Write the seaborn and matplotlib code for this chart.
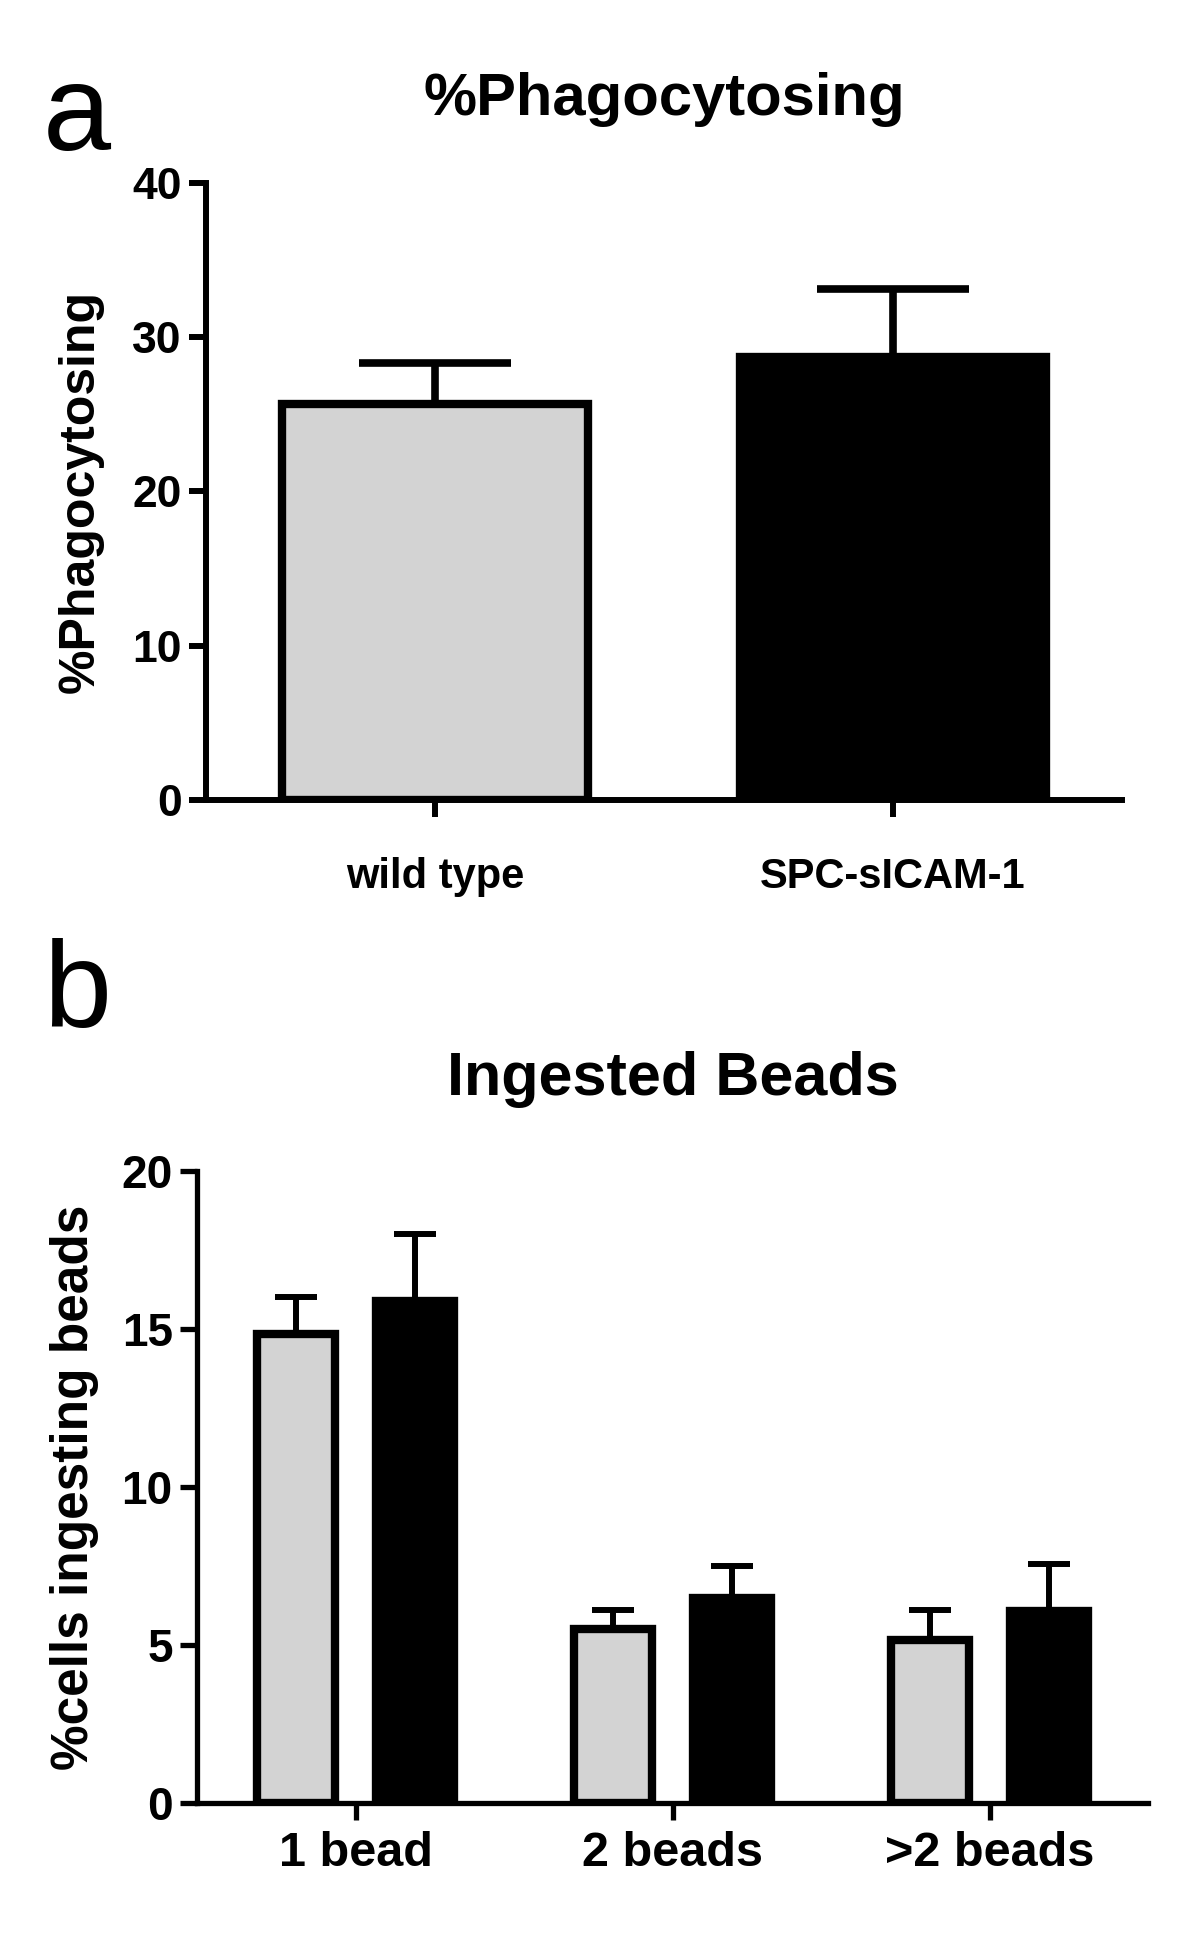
import numpy as np
import pandas as pd
import matplotlib
matplotlib.use("Agg")
import matplotlib.pyplot as plt
import seaborn as sns

sns.set_style("ticks")
plt.rcParams['font.family'] = ['Liberation Sans', 'DejaVu Sans']
plt.rcParams['font.weight'] = 'bold'
plt.rcParams['text.color'] = 'black'
plt.rcParams['axes.labelcolor'] = 'black'
plt.rcParams['xtick.color'] = 'black'
plt.rcParams['ytick.color'] = 'black'

# panel a: % phagocytosing (mean, upper SEM)
genotypes = ["wild type", "SPC-sICAM-1"]
phago_mean = [25.7, 28.7]
phago_sem = [2.6, 4.4]

# panel b: ingested beads
bead_groups = ["1 bead", "2 beads", ">2 beads"]
wt_beads = [14.85, 5.5, 5.15]
wt_beads_sem = [1.15, 0.6, 0.97]
tg_beads = [15.9, 6.5, 6.08]
tg_beads_sem = [2.1, 1.0, 1.47]

colors = ["#d3d3d3", "black"]

fig = plt.figure(figsize=(12, 19.35), dpi=100)
ax1 = fig.add_axes([206/1200, 1-800/1935, 916/1200, 617/1935])
ax2 = fig.add_axes([197/1200, 1-1803/1935, 951/1200, 632/1935])


def add_err(ax, means, sems, lw, cap):
    xs = []
    for cont in ax.containers:
        for bar in cont:
            xs.append(bar.get_x() + bar.get_width()/2)
    n = len(means)
    ax.errorbar(xs, means, yerr=[np.zeros(n), sems], fmt='none', ecolor='black',
                elinewidth=lw, capsize=cap, capthick=lw, zorder=3)


#--- panel a
df_a = pd.DataFrame({"genotype": genotypes, "value": phago_mean})
sns.barplot(data=df_a, x="genotype", y="value", hue="genotype", palette=colors,
            width=0.667, edgecolor="black", linewidth=6, errorbar=None,
            legend=False, ax=ax1)
add_err(ax1, phago_mean, phago_sem, 5.5, 55)
ax1.set_xlim(-0.5, 1.5)
ax1.set_ylim(0, 40)
ax1.set_yticks([0, 10, 20, 30, 40])
ax1.tick_params(axis='both', width=4.3, length=12)
ax1.tick_params(axis='x', pad=29, labelsize=30)
ax1.tick_params(axis='y', pad=5.5, labelsize=32)
sns.despine(ax=ax1)
for s in ["left", "bottom"]:
    ax1.spines[s].set_linewidth(4.3)
    ax1.spines[s].set_color("black")
ax1.set_xlabel("")
ax1.set_ylabel("%Phagocytosing", fontsize=36, fontweight='bold')
ax1.yaxis.set_label_coords(-0.112, 0.5)
ax1.set_title("%Phagocytosing", fontsize=43, fontweight='bold', pad=49)

#--- panel b
df_b = pd.DataFrame({
    "beads": bead_groups * 2,
    "genotype": [genotypes[0]] * 3 + [genotypes[1]] * 3,
    "value": wt_beads + tg_beads,
})
sns.barplot(data=df_b, x="beads", y="value", hue="genotype", palette=colors,
            width=0.75, gap=0.34, edgecolor="black", linewidth=6, errorbar=None,
            legend=False, ax=ax2)
add_err(ax2, wt_beads + tg_beads, wt_beads_sem + tg_beads_sem, 4.3, 15)
ax2.set_xlim(-0.5, 2.5)
ax2.set_ylim(0, 20)
ax2.set_yticks([0, 5, 10, 15, 20])
ax2.tick_params(axis='both', width=3.8, length=12.5)
ax2.tick_params(axis='x', pad=8, labelsize=35)
ax2.tick_params(axis='y', pad=5, labelsize=33)
sns.despine(ax=ax2)
for s in ["left", "bottom"]:
    ax2.spines[s].set_linewidth(3.8)
    ax2.spines[s].set_color("black")
ax2.set_xlabel("")
ax2.set_ylabel("%cells ingesting beads", fontsize=37, fontweight='bold')
ax2.yaxis.set_label_coords(-0.103, 0.5)
ax2.set_title("Ingested Beads", fontsize=44, fontweight='bold', pad=55)

# panel letters
fig.text(0.036, 1-150/1935, "a", fontsize=88, fontweight='normal', va='baseline')
fig.text(0.036, 1-1027/1935, "b", fontsize=88, fontweight='normal', va='baseline')

fig.savefig("out.png", dpi=100)
